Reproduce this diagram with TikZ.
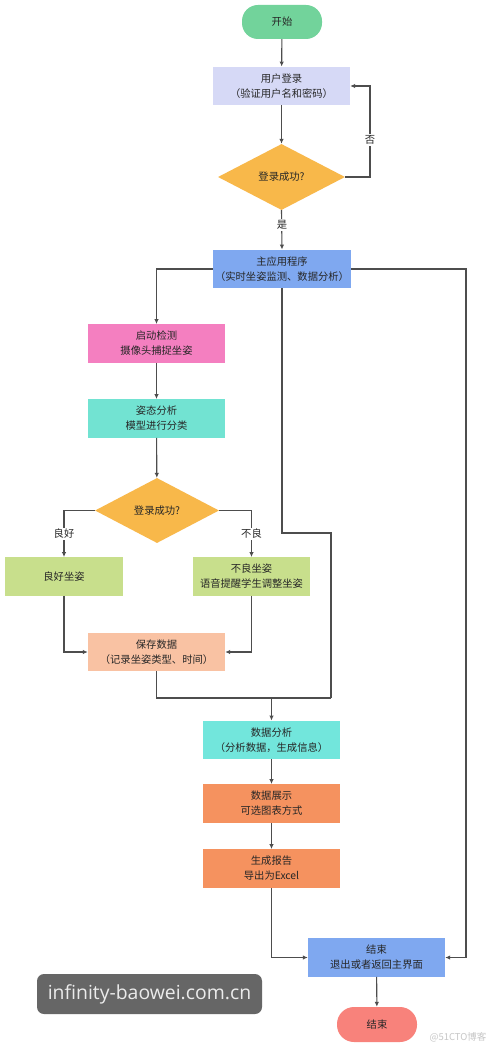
\documentclass[tikz,border=0pt]{standalone}
\usepackage{fontspec}
\setmainfont{Noto Sans CJK SC}
\newfontfamily\wmfont{Open Sans}
\usetikzlibrary{shapes.geometric,arrows.meta}
\definecolor{txt}{HTML}{262626}
\definecolor{lnc}{HTML}{4D4D4D}
\definecolor{cstart}{HTML}{72D39B}
\definecolor{clogin}{HTML}{D6D9F6}
\definecolor{cdia}{HTML}{F8B84A}
\definecolor{cblue}{HTML}{7FA8F0}
\definecolor{cpink}{HTML}{F47FC0}
\definecolor{cteal}{HTML}{72E3D2}
\definecolor{cgreen}{HTML}{C8DF8C}
\definecolor{cpeach}{HTML}{F9C2A3}
\definecolor{ccyan}{HTML}{72E6DC}
\definecolor{corange}{HTML}{F5925F}
\definecolor{cend}{HTML}{F8827B}
\definecolor{cwm}{HTML}{666666}
\tikzset{
  base/.style={draw=none, inner sep=0pt, text=txt, align=center,
    font=\fontsize{10.3}{15}\selectfont},
  boxnode/.style={base, rectangle, minimum width=137pt, minimum height=38.5pt},
  pill/.style={base, rectangle, rounded corners=16pt, minimum width=80pt, minimum height=34pt},
  dia/.style={base, diamond, aspect=2},
  conn/.style={draw=lnc, line width=1.1pt, -{Latex[length=5pt,width=4.5pt]}},
  plain/.style={draw=lnc, line width=1.1pt},
  lbl/.style={fill=white, inner sep=1.5pt, text=txt, font=\fontsize{10.3}{11}\selectfont}
}
\begin{document}
\begin{tikzpicture}[x=1pt,y=1pt]
\useasboundingbox[fill=white] (0,0) rectangle (500,-1051);

\node[pill, fill=cstart] (start) at (282,-22) {开始};
\node[boxnode, fill=clogin] (login) at (281.5,-86) {用户登录\\（验证用户名和密码）};
\node[dia, fill=cdia, minimum width=127pt, minimum height=66pt] (d1) at (281.5,-177) {登录成功?};
\node[boxnode, fill=cblue, minimum width=138pt] (main) at (282,-269) {主应用程序\\（实时坐姿监测、数据分析）};
\node[boxnode, fill=cpink] (detect) at (156.5,-343.5) {启动检测\\摄像头捕捉坐姿};
\node[boxnode, fill=cteal] (pose) at (156.5,-418.5) {姿态分析\\模型进行分类};
\node[dia, fill=cdia, minimum width=124pt, minimum height=65pt] (d2) at (157,-510.5) {登录成功?};
\node[boxnode, fill=cgreen, minimum width=118pt] (good) at (64,-576.5) {良好坐姿};
\node[boxnode, fill=cgreen, minimum width=117pt] (bad) at (251.5,-576.5) {不良坐姿\\语音提醒学生调整坐姿};
\node[boxnode, fill=cpeach] (save) at (156.5,-652) {保存数据\\（记录坐姿类型、时间）};
\node[boxnode, fill=ccyan] (analysis) at (271.5,-740) {数据分析\\（分析数据，生成信息）};
\node[boxnode, fill=corange] (display) at (271.5,-803.5) {数据展示\\可选图表方式};
\node[boxnode, fill=corange] (report) at (271.5,-868.5) {生成报告\\导出为Excel};
\node[boxnode, fill=cblue] (endbox) at (376.5,-957.5) {结束\\退出或者返回主界面};
\node[pill, fill=cend, minimum height=35pt, rounded corners=17pt] (endpill) at (377,-1024.5) {结束};

\coordinate (merge) at (271.5,-698);
\coordinate (mr) at (331,-698);

\draw[conn] (start) -- (login);
\draw[conn] (login) -- (d1);
\draw[conn] (d1.east) -- (370,-177) -- (370,-86) -- (login.east);
\node[lbl] (no) at (370,-140) {否};
\draw[conn] (d1.south) -- (main.north);
\node[lbl] (yes) at (282,-225) {是};
\draw[conn] (main.west) -| (detect.north);
\draw[conn] (main.east) -- (466,-269) |- (endbox.east);
\draw[plain] (main.south) -- (282,-533) -- (331,-533) -- (mr);
\draw[conn] (detect) -- (pose);
\draw[conn] (pose) -- (d2);
\draw[conn] (d2.west) -| (good.north);
\draw[conn] (d2.east) -| (bad.north);
\node[lbl] (lgood) at (64,-534) {良好};
\node[lbl] (lbad) at (251.5,-534) {不良};
\draw[conn] (good.south) |- (save.west);
\draw[conn] (bad.south) |- (save.east);
\draw[plain] (save.south) |- (mr);
\draw[conn] (merge) -- (analysis.north);
\draw[conn] (analysis) -- (display);
\draw[conn] (display) -- (report);
\draw[conn] (report.south) |- (endbox.west);
\draw[conn] (endbox) -- (endpill);

\node[fill=cwm, rounded corners=7pt, minimum width=225pt, minimum height=40pt, inner sep=0pt,
  text=white!92!black, font=\wmfont\fontsize{19.4}{21}\selectfont] (wm) at (149.5,-994) {infinity-baowei.com.cn};
\node[text=black!22, inner sep=0pt, font=\fontsize{9.5}{10}\selectfont] (wm2) at (458,-1037) {@51CTO博客};
\end{tikzpicture}
\end{document}
